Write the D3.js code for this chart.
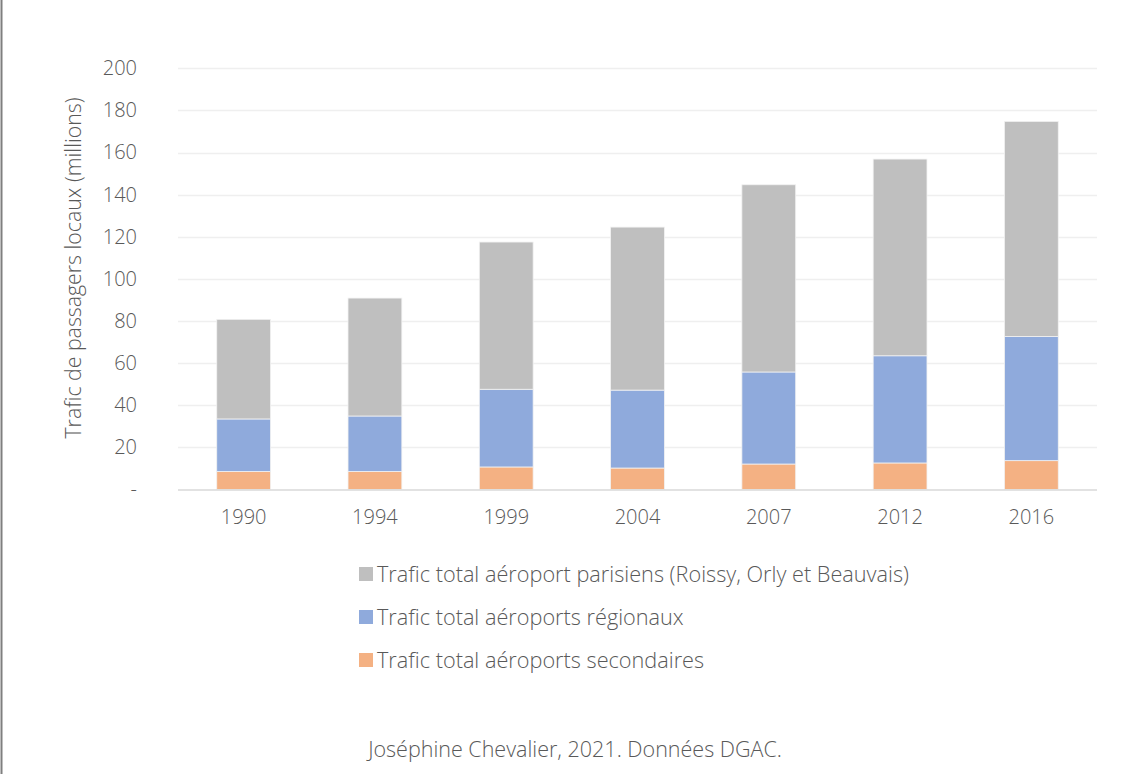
<!DOCTYPE html>
<html><head><meta charset="utf-8">
<script src="https://cdn.jsdelivr.net/npm/d3@7"></script>
<style>body{margin:0;background:#fff;} text{font-family:"Open Sans",sans-serif;font-weight:300;fill:#595959;}</style>
</head><body>
<svg id="c" width="1145" height="774"></svg>
<script>
const years = ["1990","1994","1999","2004","2007","2012","2016"];
const secondaires = [8.6, 8.6, 10.7, 10.2, 12.1, 12.6, 13.7];
const regionaux = [24.9, 26.3, 36.9, 37.0, 43.7, 50.9, 59.0];
const parisiens = [47.3, 56.0, 69.9, 77.4, 88.9, 93.4, 102.1];
const yTicks = [0,20,40,60,80,100,120,140,160,180,200];
const seriesNames = ["Trafic total aéroports secondaires","Trafic total aéroports régionaux","Trafic total aéroport parisiens (Roissy, Orly et Beauvais)"];
const colors = ["#F4B183","#8FAADC","#BFBFBF"];

const svg = d3.select("#c");
svg.append("rect").attr("x",0).attr("y",0).attr("width",1145).attr("height",774).attr("fill","#fff");
svg.append("line").attr("x1",1.5).attr("x2",1.5).attr("y1",0).attr("y2",774).attr("stroke","#7f7f7f").attr("stroke-width",2);

const x = d3.scaleBand().domain(years).range([178,1097]).paddingInner(0.59).paddingOuter(0.295);
const y = d3.scaleLinear().domain([0,200]).range([489.5,68.3]);

// grid
svg.append("g").selectAll("line").data(yTicks.slice(1)).join("line")
  .attr("x1",178).attr("x2",1097).attr("y1",d=>Math.round(y(d))+0.5).attr("y2",d=>Math.round(y(d))+0.5)
  .attr("stroke","#EFEFEF").attr("stroke-width",1.5);

const table = years.map((yr,i)=>({year:yr, s:secondaires[i], r:regionaux[i], p:parisiens[i]}));
const stack = d3.stack().keys(["s","r","p"])(table);
svg.append("g").selectAll("g").data(stack).join("g").attr("fill",(d,i)=>colors[i])
  .selectAll("rect").data(d=>d).join("rect")
  .attr("x",d=>x(d.data.year)).attr("width",x.bandwidth())
  .attr("y",d=>y(d[1])).attr("height",d=>y(d[0])-y(d[1]))
  .attr("stroke","#f2f2f2").attr("stroke-width",0.8);

// axis line
svg.append("line").attr("x1",178).attr("x2",1097).attr("y1",490).attr("y2",490).attr("stroke","#D9D9D9").attr("stroke-width",1.5);

// y tick labels
const yAxis = d3.axisLeft(y).tickValues(yTicks).tickSize(0).tickPadding(0).tickFormat(d=>d===0?"-":d);
const ga = svg.append("g").attr("transform","translate(137,0)").call(yAxis);
ga.select(".domain").remove();
ga.selectAll("text").style("font-family","'Open Sans',sans-serif").style("font-weight",300).style("font-size","20px").attr("fill","#595959");

// x labels
const xAxis = d3.axisBottom(x).tickSize(0).tickPadding(0);
const gx = svg.append("g").attr("transform","translate(0,510)").call(xAxis);
gx.select(".domain").remove();
gx.selectAll("text").style("font-family","'Open Sans',sans-serif").style("font-weight",300).style("font-size","20px").attr("fill","#595959");

// y title
svg.append("text").attr("transform","translate(81,268) rotate(-90)").attr("text-anchor","middle")
  .style("font-size","21.3px").text("Trafic de passagers locaux (millions)");

// legend
const legOrder = [2,1,0];
const lg = svg.append("g").selectAll("g").data(legOrder).join("g")
  .attr("transform",(d,i)=>`translate(359,${574+i*43})`);
lg.append("rect").attr("x",0).attr("y",-7).attr("width",14).attr("height",14).attr("fill",d=>colors[d]);
lg.append("text").attr("x",18).attr("dy","0.35em").style("font-size","21.7px").text(d=>seriesNames[d]);

// credit
svg.append("text").attr("x",575).attr("y",757).attr("text-anchor","middle").style("font-size","21.5px")
  .text("Joséphine Chevalier, 2021. Données DGAC.");
</script>
</body></html>
